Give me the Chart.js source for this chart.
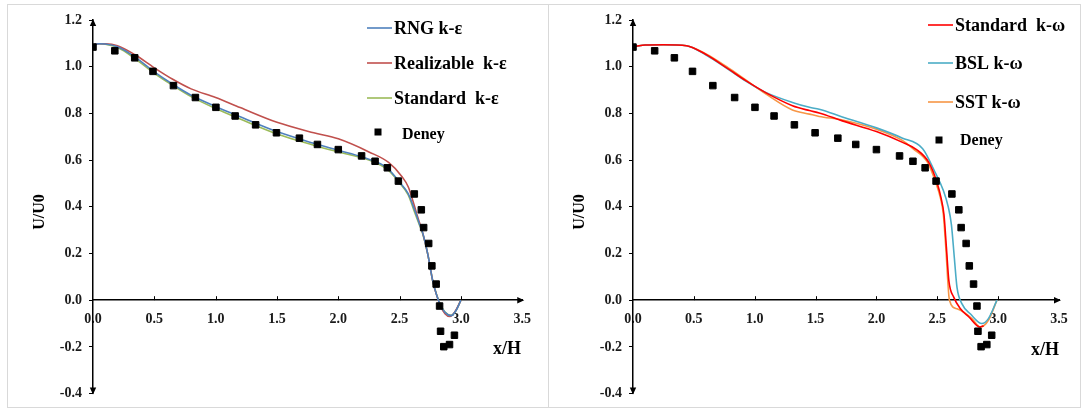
<!DOCTYPE html>
<html><head><meta charset="utf-8">
<script src="https://cdn.jsdelivr.net/npm/chart.js@4"></script>
<style>
html,body{margin:0;padding:0;background:#fff;}
body{width:1084px;height:409px;position:relative;overflow:hidden;}
.frame{position:absolute;left:7px;top:4px;width:1074px;height:404px;border:1px solid #d9d9d9;box-sizing:border-box;}
.divider{position:absolute;left:548px;top:4px;width:1px;height:404px;background:#d9d9d9;}
canvas{position:absolute;top:0;}
</style></head><body>
<div class="frame"></div><div class="divider"></div>
<canvas id="c1" width="542" height="409" style="left:0"></canvas>
<canvas id="c2" width="542" height="409" style="left:542px"></canvas>
<script>
// ---- data ----
const xTicks = [0, 0.5, 1.0, 1.5, 2.0, 2.5, 3.0, 3.5];
const yTicks = [-0.4, -0.2, 0, 0.2, 0.4, 0.6, 0.8, 1.0, 1.2];

const deneyX = [0, 0.178, 0.34, 0.489, 0.656, 0.835, 1.002, 1.159, 1.326, 1.496, 1.683, 1.83, 2.0, 2.19, 2.30, 2.40, 2.49, 2.62, 2.677, 2.696, 2.737, 2.763, 2.798, 2.826, 2.834, 2.86, 2.907, 2.947];
const deneyY = [1.084, 1.068, 1.038, 0.98, 0.919, 0.868, 0.826, 0.789, 0.751, 0.717, 0.694, 0.667, 0.645, 0.618, 0.595, 0.567, 0.510, 0.455, 0.387, 0.311, 0.243, 0.147, 0.069, -0.025, -0.133, -0.199, -0.19, -0.15];

const rngX = [0, 0.05, 0.1, 0.2, 0.34, 0.5, 0.65, 0.8, 1.0, 1.2, 1.5, 1.8, 2.0, 2.2, 2.4, 2.5, 2.57, 2.62, 2.66, 2.69, 2.73, 2.77, 2.8, 2.83, 2.87, 2.92, 2.96, 3.0];
const rngY = [1.095, 1.098, 1.097, 1.085, 1.042, 0.978, 0.925, 0.878, 0.83, 0.786, 0.722, 0.672, 0.642, 0.612, 0.566, 0.505, 0.456, 0.39, 0.33, 0.285, 0.196, 0.083, 0.025, -0.018, -0.052, -0.066, -0.044, 0.0];

const realX = [0, 0.05, 0.1, 0.2, 0.34, 0.5, 0.65, 0.8, 1.0, 1.2, 1.5, 1.8, 2.0, 2.25, 2.41, 2.52, 2.57, 2.61, 2.65, 2.69, 2.73, 2.77, 2.8, 2.83, 2.87, 2.91, 2.95, 3.0];
const realY = [1.095, 1.098, 1.098, 1.09, 1.052, 0.995, 0.946, 0.905, 0.868, 0.825, 0.762, 0.717, 0.691, 0.635, 0.59, 0.529, 0.486, 0.423, 0.352, 0.285, 0.196, 0.083, 0.025, -0.02, -0.058, -0.07, -0.05, 0.0];

const stdKeX = [0, 0.05, 0.1, 0.2, 0.34, 0.5, 0.65, 0.8, 1.0, 1.2, 1.5, 1.8, 2.0, 2.25, 2.41, 2.49, 2.57, 2.62, 2.66, 2.69, 2.73, 2.77, 2.8, 2.83, 2.87, 2.92, 2.96, 3.0];
const stdKeY = [1.095, 1.098, 1.096, 1.082, 1.036, 0.972, 0.92, 0.872, 0.821, 0.776, 0.712, 0.664, 0.635, 0.6, 0.556, 0.508, 0.451, 0.38, 0.324, 0.281, 0.196, 0.083, 0.027, -0.016, -0.051, -0.065, -0.044, 0.001];

const stdKwX = [0, 0.05, 0.1, 0.25, 0.44, 0.6, 0.77, 0.93, 1.09, 1.31, 1.45, 1.53, 1.72, 2.0, 2.21, 2.33, 2.43, 2.5, 2.53, 2.555, 2.575, 2.595, 2.635, 2.69, 2.76, 2.85, 2.88];
const stdKwY = [1.085, 1.09, 1.093, 1.094, 1.09, 1.052, 0.995, 0.939, 0.889, 0.833, 0.812, 0.802, 0.768, 0.722, 0.677, 0.645, 0.59, 0.5, 0.44, 0.366, 0.225, 0.084, 0.013, -0.037, -0.072, -0.115, -0.11];

const bslX = [0, 0.05, 0.1, 0.25, 0.44, 0.6, 0.77, 0.93, 1.09, 1.31, 1.45, 1.53, 1.72, 2.0, 2.21, 2.38, 2.48, 2.55, 2.59, 2.616, 2.64, 2.662, 2.703, 2.771, 2.866, 2.92, 2.99];
const bslY = [1.085, 1.09, 1.093, 1.094, 1.09, 1.05, 0.993, 0.937, 0.89, 0.847, 0.826, 0.818, 0.785, 0.738, 0.695, 0.649, 0.55, 0.47, 0.4, 0.324, 0.182, 0.055, -0.016, -0.058, -0.1, -0.079, 0.0];

const sstX = [0, 0.05, 0.1, 0.25, 0.44, 0.6, 0.77, 0.93, 1.09, 1.31, 1.45, 1.53, 1.72, 2.0, 2.21, 2.3, 2.42, 2.49, 2.525, 2.55, 2.57, 2.6, 2.662, 2.717, 2.785, 2.853, 2.92, 2.99];
const sstY = [1.085, 1.09, 1.093, 1.094, 1.09, 1.055, 1.0, 0.942, 0.884, 0.815, 0.797, 0.787, 0.772, 0.732, 0.685, 0.649, 0.59, 0.5, 0.44, 0.366, 0.225, 0.0, -0.037, -0.051, -0.079, -0.115, -0.086, 0.0];

// ---- drawing ----
const FONT = "'Liberation Serif', 'Times New Roman', serif";
const toPts = (xs, ys) => xs.map((x, i) => ({x: x, y: ys[i]}));
const Y_AXIS_W = 40;

function tri(ctx, x, y, dir) {
  const L = 7, W = 3.2;
  ctx.beginPath();
  if (dir === 'up') { ctx.moveTo(x, y); ctx.lineTo(x - W, y + L); ctx.lineTo(x + W, y + L); }
  else if (dir === 'down') { ctx.moveTo(x, y); ctx.lineTo(x - W, y - L); ctx.lineTo(x + W, y - L); }
  else { ctx.moveTo(x, y); ctx.lineTo(x - L, y - W); ctx.lineTo(x - L, y + W); }
  ctx.closePath(); ctx.fill();
}

const decoPlugin = {
  id: 'deco',
  afterDraw(chart, args, o) {
    const ctx = chart.ctx, xs = chart.scales.x, ys = chart.scales.y;
    const x0 = xs.getPixelForValue(0), y0 = ys.getPixelForValue(0);
    const top = ys.getPixelForValue(yTicks[yTicks.length - 1]);
    const bot = ys.getPixelForValue(yTicks[0]);
    const right = xs.getPixelForValue(xTicks[xTicks.length - 1]);
    ctx.save();
    ctx.fillStyle = '#000'; ctx.strokeStyle = '#000'; ctx.lineWidth = 1;
    xTicks.forEach(v => {
      if (v === 0 || v === xTicks[xTicks.length - 1]) return;
      const px = Math.round(xs.getPixelForValue(v)) + 0.5;
      ctx.beginPath(); ctx.moveTo(px, y0); ctx.lineTo(px, y0 - 4); ctx.stroke();
    });
    tri(ctx, x0, top - 1, 'up');
    tri(ctx, x0, bot + 1, 'down');
    tri(ctx, right + 2, y0, 'right');
    // titles
    ctx.textAlign = 'center'; ctx.textBaseline = 'middle';
    ctx.font = 'bold 16px ' + FONT;
    ctx.save(); ctx.translate(o.yTitle.x, o.yTitle.y); ctx.rotate(-Math.PI / 2);
    ctx.fillText(o.yTitle.text, 0, 0); ctx.restore();
    ctx.font = 'bold 18px ' + FONT;
    ctx.fillText(o.xTitle.text, o.xTitle.x, o.xTitle.y);
    // legend
    const lg = o.legend;
    ctx.textAlign = 'left';
    const ds = chart.data.datasets;
    for (let i = 1; i < ds.length; i++) {
      const y = lg.rows[i - 1];
      ctx.strokeStyle = ds[i].borderColor; ctx.lineWidth = 1.6;
      ctx.beginPath(); ctx.moveTo(lg.x1, y); ctx.lineTo(lg.x2, y); ctx.stroke();
      ctx.fillStyle = '#000'; ctx.font = 'bold 18px ' + FONT;
      ctx.fillText(ds[i].label, lg.tx, y + 1);
    }
    ctx.fillStyle = '#000';
    ctx.fillRect(lg.dm.x - 3.5, lg.dm.y - 3.5, 7, 7);
    ctx.font = 'bold 16px ' + FONT;
    ctx.fillText(ds[0].label, lg.dt.x, lg.dt.y);
    ctx.restore();
  }
};

function makeChart(id, series, pad, deco) {
  const datasets = [{
    label: 'Deney', data: toPts(deneyX, deneyY), showLine: false,
    pointStyle: 'rect', pointRadius: 4.6, pointHoverRadius: 4.6,
    pointBackgroundColor: '#000', pointBorderColor: '#000', pointBorderWidth: 1
  }];
  series.forEach(s => datasets.push({
    label: s.label, data: toPts(s.x, s.y), showLine: true, borderColor: s.color,
    backgroundColor: s.color, borderWidth: 1.6, pointRadius: 0, pointHoverRadius: 0,
    fill: false, cubicInterpolationMode: 'monotone'
  }));
  const tickFont = {family: FONT, size: 14, weight: 'bold'};
  return new Chart(document.getElementById(id), {
    type: 'scatter',
    data: {datasets},
    options: {
      responsive: false, animation: false, devicePixelRatio: 1,
      layout: {padding: pad},
      plugins: {legend: {display: false}, tooltip: {enabled: false}, deco: deco},
      scales: {
        x: {
          type: 'linear', min: xTicks[0], max: xTicks[xTicks.length - 1], position: {y: 0},
          afterBuildTicks: s => { s.ticks = xTicks.map(v => ({value: v})); },
          grid: {drawOnChartArea: false, drawTicks: false},
          border: {display: true, color: '#000', width: 1.5},
          ticks: {color: '#1a1a1a', font: tickFont, padding: 11, maxRotation: 0, autoSkip: false,
                  callback: v => Number(v).toFixed(1)}
        },
        y: {
          type: 'linear', min: yTicks[0], max: yTicks[yTicks.length - 1], position: 'left',
          afterBuildTicks: s => { s.ticks = yTicks.map(v => ({value: v})); },
          afterFit: s => { s.width = Y_AXIS_W; },
          grid: {drawOnChartArea: false, drawTicks: true, tickLength: 4, color: '#000', lineWidth: 1},
          border: {display: true, color: '#000', width: 1.5},
          ticks: {color: '#1a1a1a', font: tickFont, padding: 7, autoSkip: false,
                  callback: v => Number(v).toFixed(1)}
        }
      }
    },
    plugins: [decoPlugin]
  });
}

makeChart('c1', [
  {label: 'RNG k-ε', x: rngX, y: rngY, color: '#4f81bd'},
  {label: 'Realizable  k-ε', x: realX, y: realY, color: '#c0504d'},
  {label: 'Standard  k-ε', x: stdKeX, y: stdKeY, color: '#9bbb59'}
], {left: 93 - Y_AXIS_W, right: 18, top: 20, bottom: 12}, {
  yTitle: {text: 'U/U0', x: 40, y: 212},
  xTitle: {text: 'x/H', x: 507, y: 349},
  legend: {x1: 367, x2: 392, tx: 394, rows: [28, 63, 98], dm: {x: 378, y: 132}, dt: {x: 402, y: 135}}
});

makeChart('c2', [
  {label: 'Standard  k-ω', x: stdKwX, y: stdKwY, color: '#ff0000'},
  {label: 'BSL k-ω', x: bslX, y: bslY, color: '#4bacc6'},
  {label: 'SST k-ω', x: sstX, y: sstY, color: '#f79646'}
], {left: 91 - Y_AXIS_W, right: 25, top: 20, bottom: 12}, {
  yTitle: {text: 'U/U0', x: 38, y: 212},
  xTitle: {text: 'x/H', x: 503, y: 350},
  legend: {x1: 386, x2: 411, tx: 413, rows: [25, 63, 102], dm: {x: 397, y: 140}, dt: {x: 418, y: 141}}
});
</script>
</body></html>
